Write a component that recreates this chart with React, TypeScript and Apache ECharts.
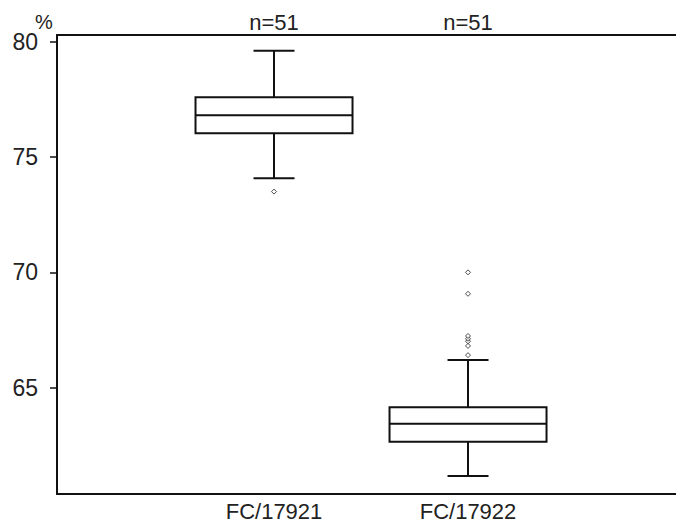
import React, { useEffect, useRef } from "react";
import * as echarts from "echarts";

const categories = ["FC/17921", "FC/17922"];
const countLabels = ["n=51", "n=51"];
const lowerWhisker = [74.08, 61.17];
const q1 = [76.03, 62.66];
const median = [76.81, 63.44];
const q3 = [77.59, 64.15];
const upperWhisker = [79.61, 66.2];
const outliersA = [73.5];
const outliersB = [66.41, 66.81, 67.01, 67.12, 67.24, 69.07, 70.0];
const yTicks = [65, 70, 75, 80];

const X_MIN = -0.1186;
const X_MAX = 3.072;
const Y_MIN = 60.39;
const Y_MAX = 80.29;

export default function App() {
  const ref = useRef<HTMLDivElement>(null);
  useEffect(() => {
    if (!ref.current) return;
    const chart = echarts.init(ref.current, null, { renderer: "svg" });
    const font = "'Liberation Sans', Arial, sans-serif";
    const boxData = categories.map((_, i) => [
      i + 1,
      lowerWhisker[i],
      q1[i],
      median[i],
      q3[i],
      upperWhisker[i],
    ]);
    const outlierData = [
      ...outliersA.map((v) => [1, v]),
      ...outliersB.map((v) => [2, v]),
    ];
    const stroke = "#111";
    const lw = 2;
    chart.setOption({
      animation: false,
      backgroundColor: "#fff",
      grid: { left: 57, right: 0, top: 35, bottom: 38, show: false },
      xAxis: [
        {
          type: "value",
          position: "bottom",
          min: X_MIN,
          max: X_MAX,
          splitLine: { show: false },
          axisLine: { show: true, onZero: false, lineStyle: { color: stroke, width: 2 } },
          axisTick: { show: false },
          axisLabel: {
            customValues: [1, 2],
            formatter: (v: number) => categories[Math.round(v) - 1] ?? "",
            color: "#222",
            fontSize: 22,
            fontFamily: font,
            margin: 6,
          },
        },
        {
          type: "value",
          position: "top",
          min: X_MIN,
          max: X_MAX,
          splitLine: { show: false },
          axisLine: { show: true, onZero: false, lineStyle: { color: stroke, width: 2 } },
          axisTick: { show: false },
          axisLabel: {
            customValues: [1, 2],
            formatter: (v: number) => countLabels[Math.round(v) - 1] ?? "",
            color: "#222",
            fontSize: 22,
            fontFamily: font,
            margin: 2,
          },
        },
      ],
      yAxis: {
        type: "value",
        min: Y_MIN,
        max: Y_MAX,
        splitLine: { show: false },
        axisLine: { show: true, onZero: false, lineStyle: { color: stroke, width: 2 } },
        axisTick: {
          show: true,
          customValues: yTicks,
          length: 7,
          lineStyle: { color: stroke, width: 1.5 },
        },
        axisLabel: {
          customValues: yTicks,
          color: "#222",
          fontSize: 23,
          fontFamily: font,
          margin: 19,
        },
      },
      graphic: [
        {
          type: "text",
          x: 44,
          y: 22,
          style: {
            text: "%",
            fontSize: 20,
            fontFamily: font,
            fill: "#222",
            align: "center",
            verticalAlign: "middle",
          },
        },
      ],
      series: [
        {
          type: "custom",
          xAxisIndex: 0,
          data: boxData,
          encode: { x: 0, y: [1, 2, 3, 4, 5] },
          clip: false,
          renderItem: (params: any, api: any) => {
            const x = api.value(0);
            const pLo = api.coord([x, api.value(1)]);
            const pQ1 = api.coord([x, api.value(2)]);
            const pMed = api.coord([x, api.value(3)]);
            const pQ3 = api.coord([x, api.value(4)]);
            const pHi = api.coord([x, api.value(5)]);
            const cx = pMed[0];
            const bw = 157 / 2;
            const cw = 41 / 2;
            const st = { stroke, lineWidth: lw, fill: null };
            return {
              type: "group",
              children: [
                { type: "line", shape: { x1: cx, y1: pHi[1], x2: cx, y2: pQ3[1] }, style: st },
                { type: "line", shape: { x1: cx, y1: pQ1[1], x2: cx, y2: pLo[1] }, style: st },
                { type: "line", shape: { x1: cx - cw, y1: pHi[1], x2: cx + cw, y2: pHi[1] }, style: st },
                { type: "line", shape: { x1: cx - cw, y1: pLo[1], x2: cx + cw, y2: pLo[1] }, style: st },
                {
                  type: "rect",
                  shape: { x: cx - bw, y: pQ3[1], width: 2 * bw, height: pQ1[1] - pQ3[1] },
                  style: { stroke, lineWidth: lw, fill: "#fff" },
                },
                { type: "line", shape: { x1: cx - bw, y1: pMed[1], x2: cx + bw, y2: pMed[1] }, style: st },
              ],
            };
          },
        },
        {
          type: "scatter",
          xAxisIndex: 0,
          data: outlierData,
          symbol: "diamond",
          symbolSize: 5,
          itemStyle: { color: "#fff", borderColor: "#222", borderWidth: 1 },
        },
      ],
    });
    return () => chart.dispose();
  }, []);
  return (
    <div
      ref={ref}
      style={{ position: "fixed", left: 0, top: 0, width: 676, height: 532, background: "#fff" }}
    />
  );
}
